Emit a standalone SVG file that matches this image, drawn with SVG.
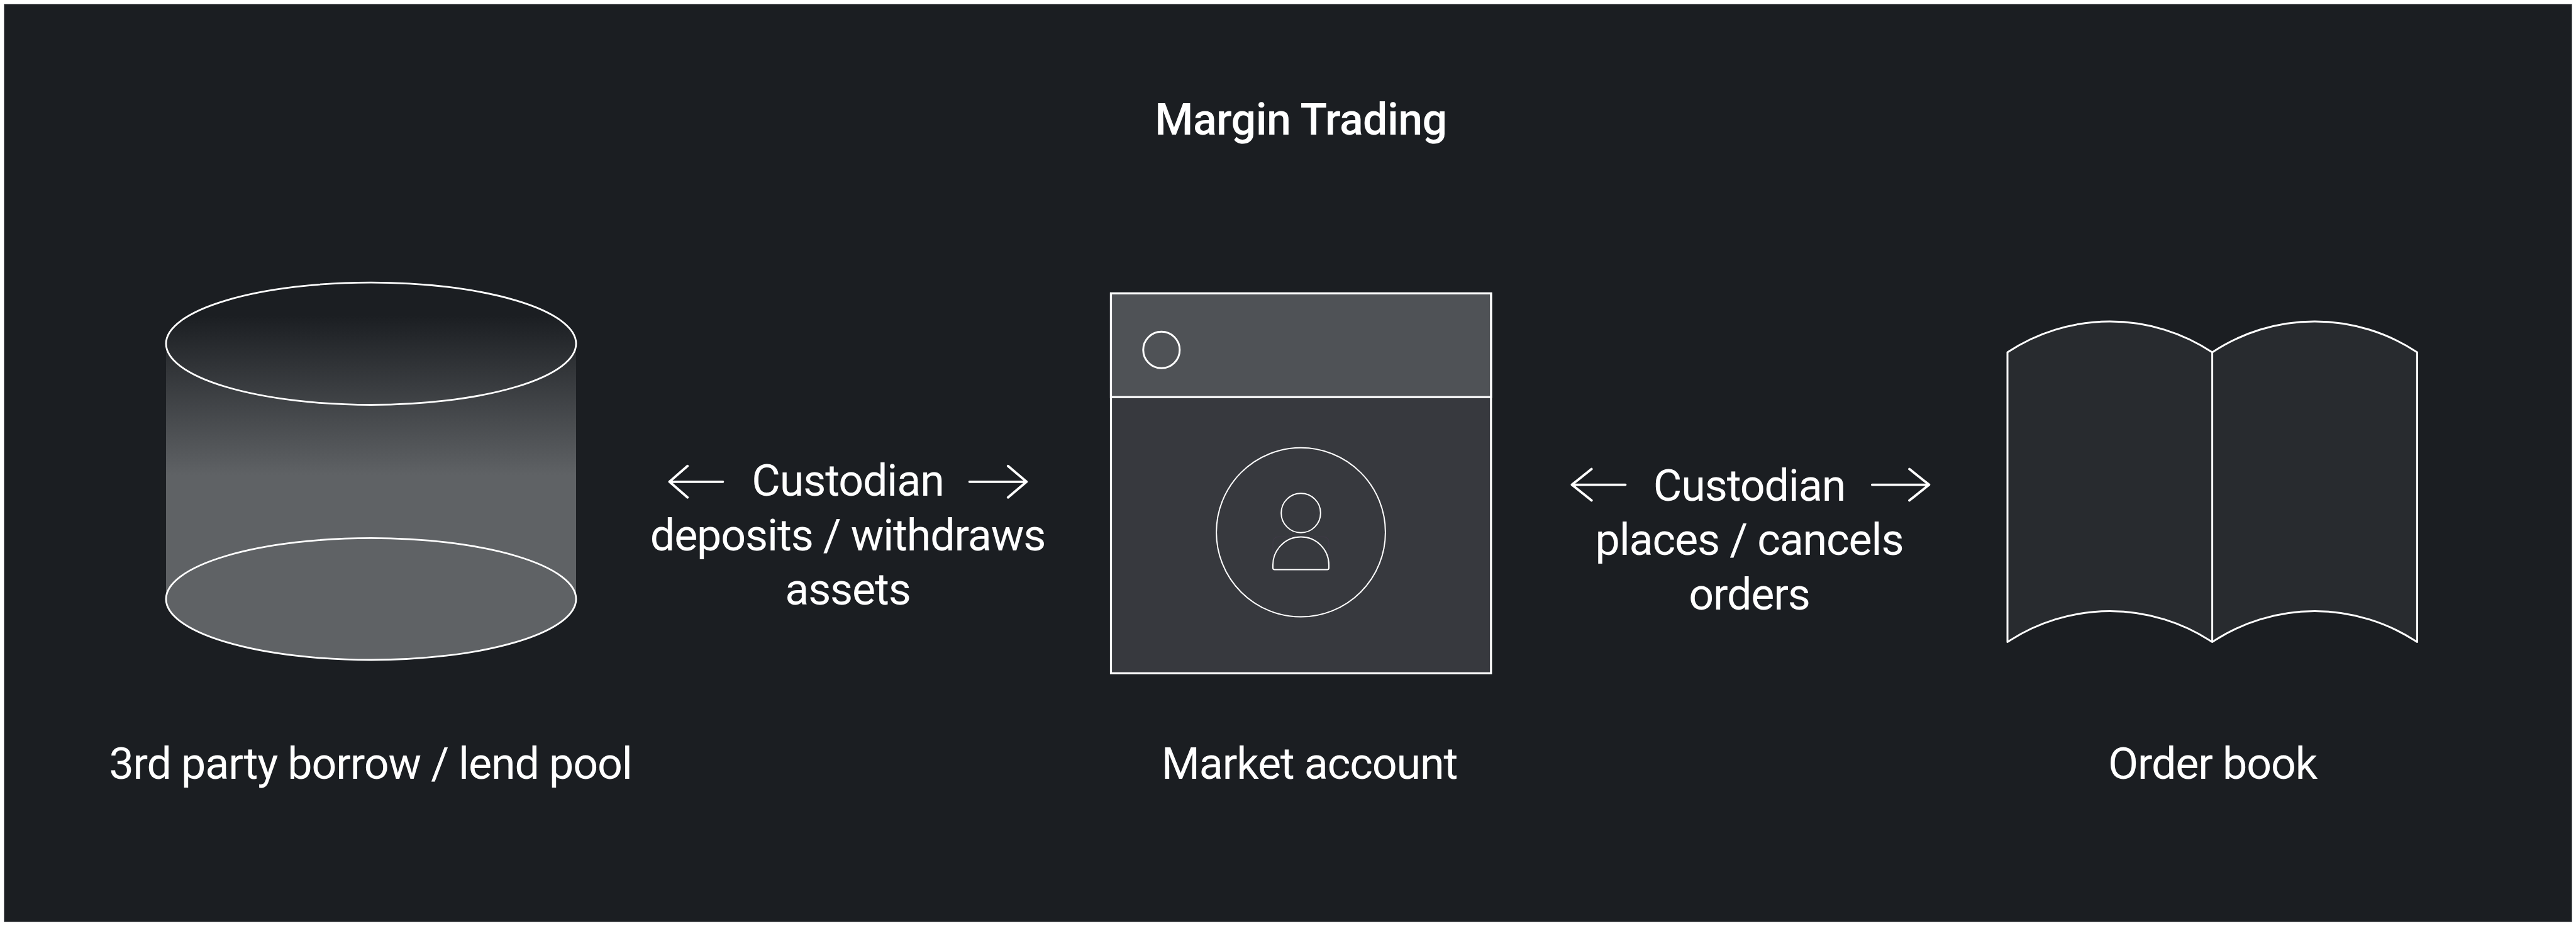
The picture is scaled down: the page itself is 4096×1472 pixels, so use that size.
<svg xmlns="http://www.w3.org/2000/svg" width="4096" height="1472" viewBox="0 0 4096 1472">
<style>
text{font-family:Roboto,"Liberation Sans",sans-serif;fill:#fff;text-anchor:middle;font-size:70px;letter-spacing:-1.15px}
.title{font-weight:500;letter-spacing:-.6px}
.ln{fill:none;stroke:#fff}
.arrow{fill:none;stroke:#fff;stroke-width:3.8;stroke-linecap:round;stroke-linejoin:round}
</style>
<defs><linearGradient id="cyl" gradientUnits="userSpaceOnUse" x1="0" y1="501.6" x2="0" y2="755.4"><stop offset="0" stop-color="#1b1e22"/><stop offset="1" stop-color="#5f6265"/></linearGradient></defs>
<rect width="4096" height="1472" fill="#fff"/>
<rect x="6.5" y="6.5" width="4083" height="1459" fill="#1b1e22" stroke="#8a8b8d" stroke-width="1"/>
<text id="title" class="title" x="2068.5" y="214">Margin Trading</text>
<g id="pool">
<path d="M264 546.3V952.2A326 97 0 0 0 916 952.2V546.3A326 97 0 0 0 264 546.3Z" fill="url(#cyl)"/>
<ellipse cx="590" cy="546.3" rx="326" ry="97.2" fill="none" stroke="#fff" stroke-width="2.8"/>
<ellipse cx="590" cy="952.2" rx="326" ry="96.8" fill="#5f6265" stroke="#fff" stroke-width="2.8"/>
<text x="589" y="1238">3rd party borrow / lend pool</text>
</g>
<g id="market">
<rect x="1766.5" y="466.4" width="604.3" height="603.8" fill="#37393e" stroke="#fff" stroke-width="3.2"/>
<rect x="1766.5" y="466.4" width="604.3" height="164.8" fill="#4f5256" stroke="#fff" stroke-width="3.2"/>
<circle class="ln" cx="1846.8" cy="556.3" r="29" stroke-width="3"/>
<circle class="ln" cx="2068.5" cy="846.2" r="134.4" stroke-width="2"/>
<circle class="ln" cx="2068.5" cy="815.5" r="31.3" stroke-width="2"/>
<path d="M2024 885V862A8 8 0 0 1 2032 853.6H2105A8 8 0 0 1 2113 862V885" fill="none" stroke="#3e3a46" stroke-width="1.5"/>
<path class="ln" stroke-width="2" d="M2024 903V898.1A44.5 44.5 0 0 1 2113 898.1V903Q2113 905.4 2110.5 905.4H2026.5Q2024 905.4 2024 903Z"/>
<text x="2082" y="1238">Market account</text>
</g>
<g id="book">
<path d="M3192 560A295 295 0 0 1 3517.6 560A295 295 0 0 1 3843.4 560V1020.6A295 295 0 0 0 3517.6 1020.6A295 295 0 0 0 3192 1020.6Z" fill="#282b2f" stroke="#fff" stroke-width="3" stroke-linejoin="round"/>
<path class="ln" stroke-width="3" d="M3517.6 560V1020.6"/>
<text x="3518" y="1238">Order book</text>
</g>
<g id="connectors">
<path class="arrow" d="M1149.4 765.8H1064.5M1093.2 740.8L1064.5 765.8L1093.2 790.8"/>
<path class="arrow" d="M1541.6 765.8H1632.3M1602.8 740.8L1632.3 765.8L1602.8 790.8"/>
<text x="1348" y="788">Custodian</text>
<text x="1348" y="874.5">deposits / withdraws</text>
<text x="1348" y="960.8">assets</text>
<path class="arrow" d="M2584.5 770.6H2499.4M2530.7 745.6L2499.4 770.6L2530.7 795.6"/>
<path class="arrow" d="M2976.8 770.6H3067.4M3036 745.6L3067.4 770.6L3036 795.6"/>
<text x="2781.5" y="796">Custodian</text>
<text x="2781.5" y="882.4">places / cancels</text>
<text x="2781.5" y="968.8">orders</text>
</g>
</svg>
